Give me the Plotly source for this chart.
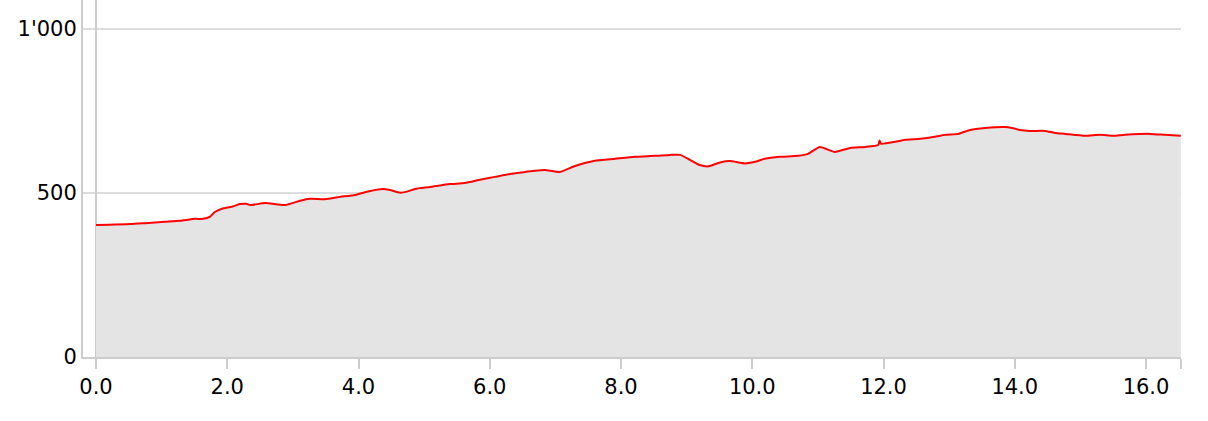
import plotly.graph_objects as go

distance_km = [0.00, 0.52, 0.75, 1.05, 1.28, 1.51, 1.63, 1.74, 1.81, 1.92, 2.07, 2.19, 2.29, 2.35,
               2.58, 2.88, 3.11, 3.26, 3.49, 3.72, 3.95, 4.18, 4.37, 4.48, 4.63, 4.74, 4.86, 5.09,
               5.39, 5.62, 5.85, 6.08, 6.31, 6.54, 6.69, 6.84, 7.07, 7.30, 7.60, 7.91, 8.21, 8.52,
               8.75, 8.90, 9.05, 9.20, 9.33, 9.51, 9.66, 9.89, 10.04, 10.19, 10.42, 10.70, 10.85,
               11.03, 11.26, 11.49, 11.72, 11.92, 11.94, 11.96, 12.18, 12.33, 12.56, 12.78, 12.94,
               13.14, 13.32, 13.55, 13.85, 13.96, 14.08, 14.23, 14.46, 14.61, 14.77, 15.07, 15.30,
               15.50, 15.68, 16.06, 16.29, 16.53]
elevation_m = [402, 405, 408, 412, 415, 421, 421, 428, 442, 452, 458, 466, 467, 463,
               469, 463, 476, 482, 481, 488, 494, 506, 512, 509, 501, 504, 512, 518,
               527, 530, 540, 549, 558, 564, 568, 570, 564, 582, 598, 604, 610, 613,
               616, 616, 601, 585, 581, 593, 597, 590, 595, 604, 610, 613, 619,
               640, 625, 637, 640, 646, 660, 650, 656, 662, 665, 671, 677,
               680, 692, 698, 701, 698, 692, 689, 689, 683, 680, 674, 677,
               674, 677, 680, 677, 674]

x_tick_vals = [0, 2, 4, 6, 8, 10, 12, 14, 16, 16.53]
x_tick_text = ["0.0", "2.0", "4.0", "6.0", "8.0", "10.0", "12.0", "14.0", "16.0", ""]
y_tick_vals = [0, 500, 1000]

fig = go.Figure()
fig.add_trace(go.Scatter(
    x=distance_km, y=elevation_m, mode="lines",
    line=dict(color="#ff0000", width=2, shape="spline", smoothing=0.5),
    fill="tozeroy", fillcolor="#e4e4e4", hoverinfo="x+y", showlegend=False,
))

fig.update_layout(
    width=1208, height=421,
    margin=dict(l=83, r=27, t=0, b=64),
    paper_bgcolor="white", plot_bgcolor="white",
    separators=".'",
    font=dict(family="DejaVu Sans", size=21, color="#000"),
)
fig.update_xaxes(
    range=[-0.198, 16.533], tickvals=x_tick_vals, ticktext=x_tick_text,
    showgrid=False, zeroline=True, zerolinecolor="#cccccc", zerolinewidth=2,
    showline=True, linecolor="#cccccc", linewidth=2,
    ticks="outside", ticklen=10, tickcolor="#cccccc", tickwidth=2,
    automargin=False,
)
fig.update_yaxes(
    range=[0, 1088], tickvals=y_tick_vals, tickformat=",d",
    showgrid=True, gridcolor="#dddddd", gridwidth=2, zeroline=False,
    showline=True, linecolor="#cccccc", linewidth=2, ticks="",
    automargin=False,
)

fig.write_html(
    "out.html",
    config={"displayModeBar": False},
    post_script="document.body.style.margin='0';document.body.style.overflow='hidden';",
)
